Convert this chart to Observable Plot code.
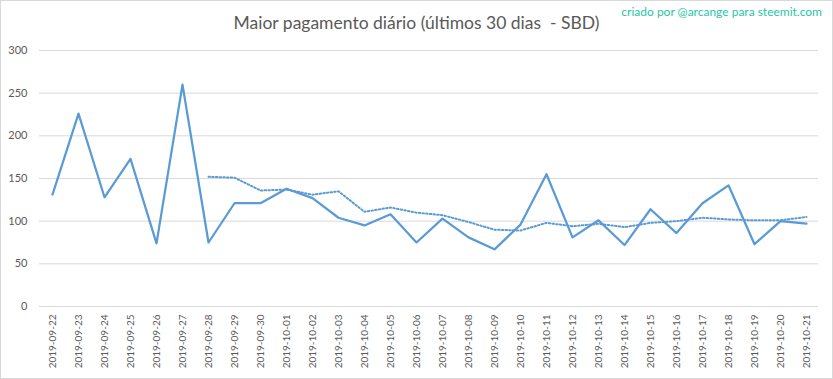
<!DOCTYPE html>
<html>
<head>
<meta charset="utf-8">
<script src="https://cdn.jsdelivr.net/npm/d3@7"></script>
<script src="https://cdn.jsdelivr.net/npm/@observablehq/plot@0.6"></script>
<style>
  body { margin: 0; background: #fff; }
  #wrap { position: relative; width: 833px; height: 379px; background: #fff; overflow: hidden; }
  #head { position: relative; height: 40px; }
  #title { position: absolute; left: 0; right: 0; top: 12px; text-align: center; font-family: Lato, sans-serif; font-size: 17.5px; color: #595959; white-space: pre; }
  #credit { position: absolute; right: 11px; top: 4px; font-family: Lato, sans-serif; font-size: 12px; color: #1fc6a4; }
  #border { position: absolute; left: 0; top: 0; width: 833px; height: 379px; box-sizing: border-box; border: 1px solid #d9d9d9; pointer-events: none; }
</style>
</head>
<body>
<div id="wrap">
  <div id="head">
    <div id="title">Maior pagamento diário (últimos 30 dias  - SBD)</div>
    <div id="credit">criado por @arcange para steemit.com</div>
  </div>
  <div id="chart"></div>
  <div id="border"></div>
</div>
<script>
const dates = [
  "2019-09-22","2019-09-23","2019-09-24","2019-09-25","2019-09-26","2019-09-27","2019-09-28",
  "2019-09-29","2019-09-30","2019-10-01","2019-10-02","2019-10-03","2019-10-04","2019-10-05",
  "2019-10-06","2019-10-07","2019-10-08","2019-10-09","2019-10-10","2019-10-11","2019-10-12",
  "2019-10-13","2019-10-14","2019-10-15","2019-10-16","2019-10-17","2019-10-18","2019-10-19",
  "2019-10-20","2019-10-21"
];
const maxPayout = [131,226,128,173,74,260,75,121,121,138,127,104,95,108,75,103,81,67,96,155,81,101,72,114,86,121,142,73,100,97];
const movingAvg = [null,null,null,null,null,null,152,151,136,137,131,135,111,116,110,107,99,90,89,98,94,97,93,98,100,104,102,101,101,105];
const yTicks = [0,50,100,150,200,250,300];

const rows = dates.map((d, i) => ({date: d, max: maxPayout[i], avg: movingAvg[i]}));
const blue = "#5b9bd5";

const chart = Plot.plot({
  width: 833,
  height: 339,
  marginTop: 10,
  marginBottom: 73,
  marginLeft: 39,
  marginRight: 15,
  style: {fontFamily: "Lato, sans-serif", color: "#595959", background: "transparent"},
  x: {type: "point", domain: dates, padding: 0, label: null},
  y: {domain: [0, 300], ticks: yTicks, label: null},
  marks: [
    Plot.ruleY(yTicks, {stroke: "#d9d9d9", strokeWidth: 1}),
    Plot.axisY({ticks: yTicks, tickSize: 0, tickPadding: 12, fontSize: 11, label: null}),
    Plot.axisX({tickRotate: -90, tickSize: 0, tickPadding: 8, fontSize: 10, label: null}),
    Plot.line(rows.filter(r => r.avg != null), {x: "date", y: "avg", stroke: blue, strokeWidth: 2, strokeDasharray: "1.5,2.2"}),
    Plot.line(rows, {x: "date", y: "max", stroke: blue, strokeWidth: 2.25})
  ]
});
document.getElementById("chart").appendChild(chart);
</script>
</body>
</html>
